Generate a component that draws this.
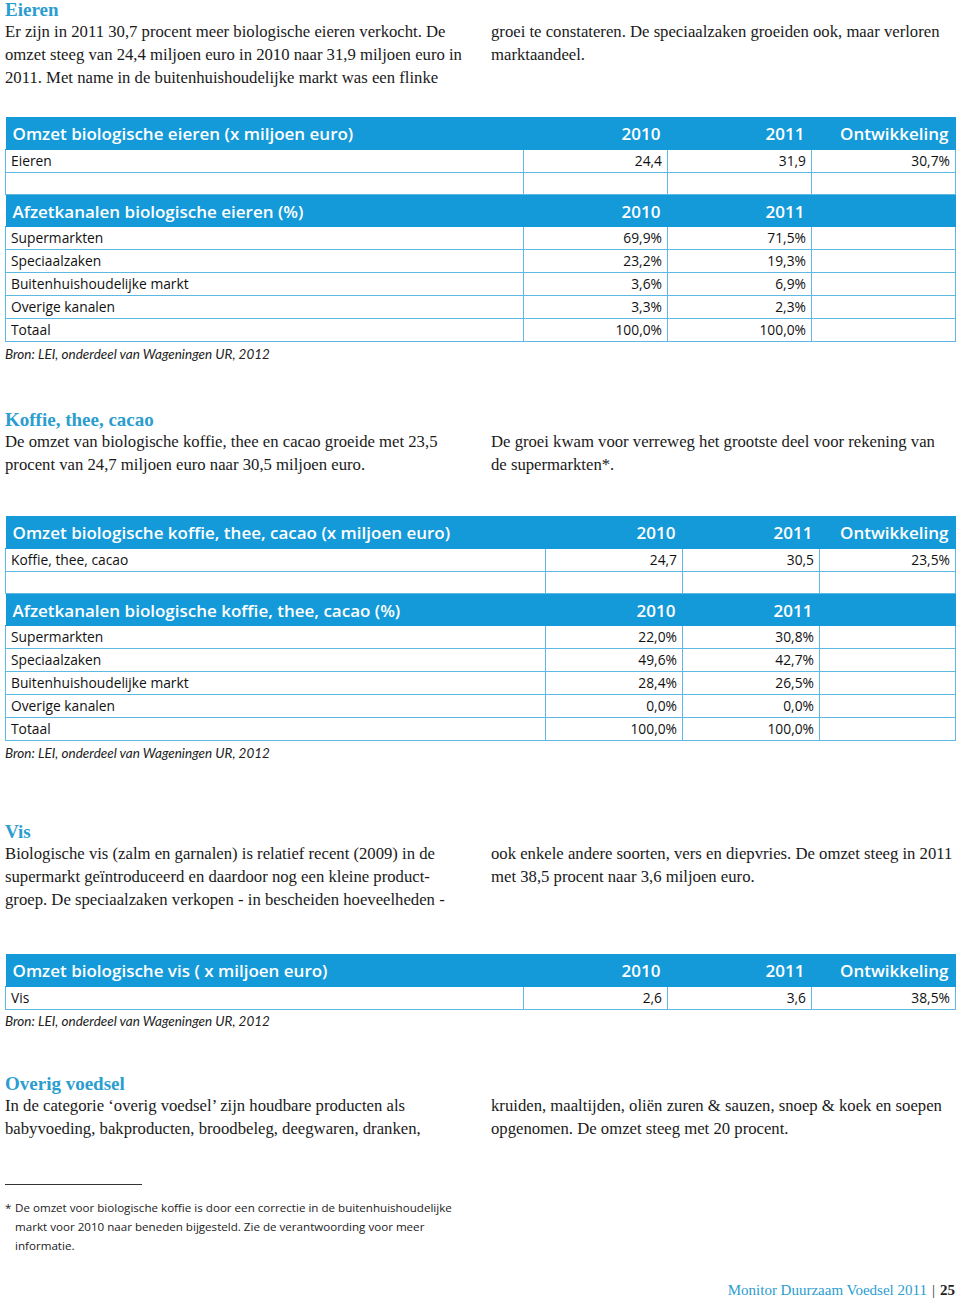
import React from "react";

const BLUE = "#149ad9";
const HEAD_BLUE = "#2b9dcf";
const LINE = "#5db8e3";
const SERIF = "'Liberation Serif', 'DejaVu Serif', serif";
const SANS = "'Open Sans', 'Noto Sans', sans-serif";

// ---- data ----
const years = ["2010", "2011"];
const devLabel = "Ontwikkeling";
const sourceText = "Bron: LEI, onderdeel van Wageningen UR, 2012";

const eggTitle = "Omzet biologische eieren (x miljoen euro)";
const eggRow = ["Eieren"];
const egg2010 = [24.4];
const egg2011 = [31.9];
const eggDev = [30.7];
const eggChanTitle = "Afzetkanalen biologische eieren (%)";
const channels = ["Supermarkten", "Speciaalzaken", "Buitenhuishoudelijke markt", "Overige kanalen", "Totaal"];
const eggChan2010 = [69.9, 23.2, 3.6, 3.3, 100.0];
const eggChan2011 = [71.5, 19.3, 6.9, 2.3, 100.0];

const kofTitle = "Omzet biologische koffie, thee, cacao (x miljoen euro)";
const kofRow = ["Koffie, thee, cacao"];
const kof2010 = [24.7];
const kof2011 = [30.5];
const kofDev = [23.5];
const kofChanTitle = "Afzetkanalen biologische koffie, thee, cacao (%)";
const kofChan2010 = [22.0, 49.6, 28.4, 0.0, 100.0];
const kofChan2011 = [30.8, 42.7, 26.5, 0.0, 100.0];

const visTitle = "Omzet biologische vis ( x miljoen euro)";
const visRow = ["Vis"];
const vis2010 = [2.6];
const vis2011 = [3.6];
const visDev = [38.5];

const fmt = (v: number) => v.toFixed(1).replace(".", ",");
const pct = (v: number) => fmt(v) + "%";

type Block = { heading: string; top: number; left: string[]; right: string[] };
const blocks: Block[] = [
  {
    heading: "Eieren",
    top: 0,
    left: [
      "Er zijn in 2011 30,7 procent meer biologische eieren verkocht. De",
      "omzet steeg van 24,4 miljoen euro in 2010 naar 31,9 miljoen euro in",
      "2011. Met name in de buitenhuishoudelijke markt was een flinke",
    ],
    right: ["groei te constateren. De speciaalzaken groeiden ook, maar verloren", "marktaandeel."],
  },
  {
    heading: "Koffie, thee, cacao",
    top: 410,
    left: [
      "De omzet van biologische koffie, thee en cacao groeide met 23,5",
      "procent van 24,7 miljoen euro naar 30,5 miljoen euro.",
    ],
    right: ["De groei kwam voor verreweg het grootste deel voor rekening van", "de supermarkten*."],
  },
  {
    heading: "Vis",
    top: 822,
    left: [
      "Biologische vis (zalm en garnalen) is relatief recent (2009) in de",
      "supermarkt geïntroduceerd en daardoor nog een kleine product-",
      "groep. De speciaalzaken verkopen - in bescheiden hoeveelheden -",
    ],
    right: [
      "ook enkele andere soorten, vers en diepvries. De omzet steeg in 2011",
      "met 38,5 procent naar 3,6 miljoen euro.",
    ],
  },
  {
    heading: "Overig voedsel",
    top: 1074,
    left: [
      "In de categorie \u2018overig voedsel\u2019 zijn houdbare producten als",
      "babyvoeding, bakproducten, broodbeleg, deegwaren, dranken,",
    ],
    right: [
      "kruiden, maaltijden, oliën zuren & sauzen, snoep & koek en soepen",
      "opgenomen. De omzet steeg met 20 procent.",
    ],
  },
];

function TextBlock({ b }: { b: Block }) {
  const lineStyle: React.CSSProperties = { height: 23, lineHeight: "23px", whiteSpace: "nowrap" };
  return (
    <div style={{ position: "absolute", top: b.top, left: 5, width: 950, fontFamily: SERIF }}>
      <div style={{ color: HEAD_BLUE, fontWeight: "bold", fontSize: 19, height: 22, lineHeight: "19px" }}>{b.heading}</div>
      <div style={{ position: "absolute", top: 20, left: 0, fontSize: 16.7, color: "#1a1a1a" }}>
        {b.left.map((l, i) => (
          <div key={i} style={lineStyle}>{l}</div>
        ))}
      </div>
      <div style={{ position: "absolute", top: 20, left: 486, fontSize: 16.7, color: "#1a1a1a" }}>
        {b.right.map((l, i) => (
          <div key={i} style={lineStyle}>{l}</div>
        ))}
      </div>
    </div>
  );
}

type Row = { kind: "head" | "data" | "empty"; cells: string[] };

function Table({ top, cols, rows }: { top: number; cols: number[]; rows: Row[] }) {
  return (
    <table
      style={{
        position: "absolute",
        top,
        left: 5,
        width: 951,
        borderCollapse: "collapse",
        tableLayout: "fixed",
        fontFamily: SANS,
      }}
    >
      <colgroup>
        {cols.map((w, i) => (
          <col key={i} style={{ width: w }} />
        ))}
      </colgroup>
      <tbody>
        {rows.map((r, ri) => {
          if (r.kind === "head") {
            return (
              <tr key={ri} style={{ height: 32, background: BLUE }}>
                {r.cells.map((c, ci) => (
                  <td
                    key={ci}
                    style={{
                      color: "#fff",
                      fontWeight: 600,
                      fontSize: 17,
                      padding: ci === 0 ? "2px 0 0 7px" : "2px 7px 0 0",
                      textAlign: ci === 0 ? "left" : "right",
                      whiteSpace: "nowrap",
                      border: "none",
                      borderBottom: `1px solid ${BLUE}`,
                      overflow: "visible",
                    }}
                  >
                    {c}
                  </td>
                ))}
              </tr>
            );
          }
          return (
            <tr key={ri} style={{ height: r.kind === "empty" ? 22 : 23 }}>
              {r.cells.map((c, ci) => (
                <td
                  key={ci}
                  style={{
                    color: "#111",
                    fontSize: 13.8,
                    padding: ci === 0 ? "1px 0 0 5px" : "1px 5px 0 0",
                    textAlign: ci === 0 ? "left" : "right",
                    whiteSpace: "nowrap",
                    borderLeft: `1.5px solid ${LINE}`,
                    borderRight: `1.5px solid ${LINE}`,
                    borderBottom: `1.5px solid ${LINE}`,
                    lineHeight: "18px",
                  }}
                >
                  {c}
                </td>
              ))}
            </tr>
          );
        })}
      </tbody>
    </table>
  );
}

function Source({ top }: { top: number }) {
  return (
    <div
      style={{
        position: "absolute",
        top,
        left: 5,
        fontFamily: "Lato, 'Open Sans', sans-serif",
        fontStyle: "italic",
        fontSize: 13.5,
        color: "#222",
        whiteSpace: "nowrap",
      }}
    >
      {sourceText}
    </div>
  );
}

function buildRevenue(title: string, labels: string[], a: number[], b: number[], d: number[]): Row[] {
  const rows: Row[] = [{ kind: "head", cells: [title, years[0], years[1], devLabel] }];
  labels.forEach((l, i) => rows.push({ kind: "data", cells: [l, fmt(a[i]), fmt(b[i]), pct(d[i])] }));
  return rows;
}

function buildChannels(title: string, a: number[], b: number[]): Row[] {
  const rows: Row[] = [{ kind: "head", cells: [title, years[0], years[1], ""] }];
  channels.forEach((l, i) => rows.push({ kind: "data", cells: [l, pct(a[i]), pct(b[i]), ""] }));
  return rows;
}

export default function App() {
  const eggRows: Row[] = [
    ...buildRevenue(eggTitle, eggRow, egg2010, egg2011, eggDev),
    { kind: "empty", cells: ["", "", "", ""] },
    ...buildChannels(eggChanTitle, eggChan2010, eggChan2011),
  ];
  const kofRows: Row[] = [
    ...buildRevenue(kofTitle, kofRow, kof2010, kof2011, kofDev),
    { kind: "empty", cells: ["", "", "", ""] },
    ...buildChannels(kofChanTitle, kofChan2010, kofChan2011),
  ];
  const visRows: Row[] = buildRevenue(visTitle, visRow, vis2010, vis2011, visDev);

  return (
    <div style={{ position: "absolute", left: 0, top: 0, width: 960, height: 1300, background: "#fff", overflow: "hidden" }}>
      {blocks.map((b, i) => (
        <TextBlock key={i} b={b} />
      ))}
      <Table top={117} cols={[518, 144, 144, 144]} rows={eggRows} />
      <Source top={346} />
      <Table top={516} cols={[540, 137, 137, 136]} rows={kofRows} />
      <Source top={745} />
      <Table top={954} cols={[518, 144, 144, 144]} rows={visRows} />
      <Source top={1013} />

      <div style={{ position: "absolute", top: 1184, left: 5, width: 137, borderTop: "1px solid #333" }} />
      <div style={{ position: "absolute", top: 1198, left: 5, fontFamily: SANS, fontSize: 11.6, color: "#222", lineHeight: "19px" }}>
        <div style={{ position: "absolute", left: 0, top: 0 }}>*</div>
        <div style={{ position: "absolute", left: 10, top: 0, whiteSpace: "nowrap" }}>
          <div>De omzet voor biologische koffie is door een correctie in de buitenhuishoudelijke</div>
          <div>markt voor 2010 naar beneden bijgesteld. Zie de verantwoording voor meer</div>
          <div>informatie.</div>
        </div>
      </div>
      <div
        style={{
          position: "absolute",
          top: 1282,
          right: 5,
          fontFamily: SERIF,
          fontSize: 15,
          whiteSpace: "nowrap",
        }}
      >
        <span style={{ color: HEAD_BLUE }}>Monitor Duurzaam Voedsel 2011</span>
        <span style={{ color: "#333", margin: "0 5px" }}>|</span>
        <span style={{ color: "#222", fontWeight: "bold" }}>25</span>
      </div>
    </div>
  );
}
